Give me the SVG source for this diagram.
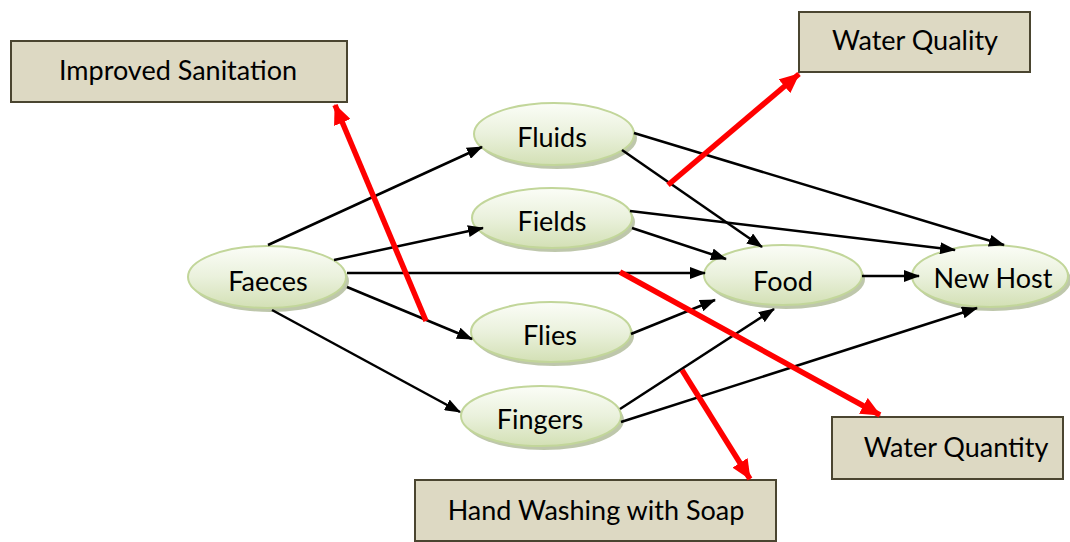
<svg xmlns="http://www.w3.org/2000/svg" width="1070" height="542" viewBox="0 0 1070 542">
<defs>
<linearGradient id="eg" x1="0" y1="0" x2="0" y2="1">
<stop offset="0" stop-color="#fbfdf7"/>
<stop offset="0.5" stop-color="#eaf1dc"/>
<stop offset="1" stop-color="#d3e0b5"/>
</linearGradient>
<marker id="ab" viewBox="0 0 16 12" refX="15" refY="6" markerWidth="16" markerHeight="12" markerUnits="userSpaceOnUse" orient="auto">
<path d="M0,0 L16,6 L0,12 Z" fill="#000"/>
</marker>
<marker id="ar" viewBox="0 0 20 18" refX="19" refY="9" markerWidth="20" markerHeight="18" markerUnits="userSpaceOnUse" orient="auto">
<path d="M0,0 L20,9 L0,18 Z" fill="#ff0000"/>
</marker>
</defs>
<style>
.sh{fill:#aeb996;opacity:0.8}
.el{fill:url(#eg);stroke:#c2d69a;stroke-width:2}
.bx{fill:#ddd9c3;stroke:#4a4530;stroke-width:2}
.t{font-family:Lato,"Liberation Sans",sans-serif;font-size:27px;fill:#000;text-anchor:middle}
.b{stroke:#000;stroke-width:2.5;fill:none;marker-end:url(#ab)}
.r{stroke:#ff0000;stroke-width:5.5;fill:none;marker-end:url(#ar)}
</style>
<g id="improved-sanitation"><rect class="bx" x="11" y="41" width="336" height="61"/><text class="t" x="178" y="80">Improved Sanitation</text></g>
<g id="water-quality"><rect class="bx" x="799" y="12" width="231" height="60"/><text class="t" x="915" y="50">Water Quality</text></g>
<g id="water-quantity"><rect class="bx" x="832" y="417" width="231" height="62"/><text class="t" x="956" y="457">Water Quantity</text></g>
<g id="hand-washing"><rect class="bx" x="415" y="480" width="361" height="61"/><text class="t" x="596" y="520">Hand Washing with Soap</text></g>
<g id="faeces"><ellipse class="sh" cx="270" cy="281" rx="79" ry="31"/><ellipse class="el" cx="267" cy="277" rx="79" ry="31"/><text class="t" x="268" y="291">Faeces</text></g>
<g id="fluids"><ellipse class="sh" cx="557" cy="138" rx="80" ry="31"/><ellipse class="el" cx="554" cy="134" rx="80" ry="31"/><text class="t" x="552" y="147">Fluids</text></g>
<g id="fields"><ellipse class="sh" cx="555" cy="222" rx="80" ry="30"/><ellipse class="el" cx="552" cy="218" rx="80" ry="30"/><text class="t" x="552" y="231">Fields</text></g>
<g id="flies"><ellipse class="sh" cx="554" cy="336" rx="80" ry="30"/><ellipse class="el" cx="551" cy="332" rx="80" ry="30"/><text class="t" x="550" y="345">Flies</text></g>
<g id="fingers"><ellipse class="sh" cx="544" cy="420" rx="80" ry="30"/><ellipse class="el" cx="541" cy="416" rx="80" ry="30"/><text class="t" x="540" y="429">Fingers</text></g>
<g id="food"><ellipse class="sh" cx="786" cy="279" rx="79" ry="30"/><ellipse class="el" cx="783" cy="275" rx="79" ry="30"/><text class="t" x="783" y="291">Food</text></g>
<g id="new-host"><ellipse class="sh" cx="993" cy="280" rx="78" ry="31"/><ellipse class="el" cx="990" cy="276" rx="78" ry="31"/><text class="t" x="993" y="288">New Host</text></g>
<g id="connectors">
<line class="b" x1="268" y1="245" x2="482" y2="147"/>
<line class="b" x1="334" y1="260" x2="483" y2="228"/>
<line class="b" x1="347" y1="273" x2="705" y2="273"/>
<line class="b" x1="347" y1="287" x2="472" y2="339"/>
<line class="b" x1="272" y1="310" x2="460" y2="412"/>
<line class="b" x1="622" y1="150" x2="762" y2="247"/>
<line class="b" x1="634" y1="133" x2="1004" y2="245"/>
<line class="b" x1="630" y1="211" x2="955" y2="250"/>
<line class="b" x1="632" y1="228" x2="726" y2="259"/>
<line class="b" x1="862" y1="276" x2="919" y2="276"/>
<line class="b" x1="631" y1="334" x2="715" y2="300"/>
<line class="b" x1="620" y1="409" x2="774" y2="309"/>
<line class="b" x1="621" y1="422" x2="977" y2="308"/>
<line class="r" x1="426" y1="321" x2="335" y2="105"/>
<line class="r" x1="668" y1="185" x2="799" y2="74"/>
<line class="r" x1="620" y1="272" x2="880" y2="415"/>
<line class="r" x1="682" y1="370" x2="750" y2="479"/>
</g>
</svg>
